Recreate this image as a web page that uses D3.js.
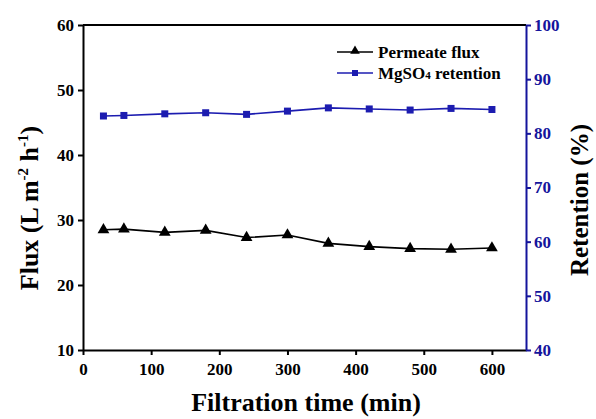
<!DOCTYPE html>
<html>
<head>
<meta charset="utf-8">
<script src="https://cdn.jsdelivr.net/npm/d3@7"></script>
<style>
  html, body { margin: 0; padding: 0; background: #fff; }
  svg { display: block; font-family: "Liberation Serif", "Times New Roman", serif; font-weight: bold; }
</style>
</head>
<body>
<svg id="chart" width="596" height="419"></svg>
<script>
// Filtration time (min) at each sample
const times = [30, 60, 120, 180, 240, 300, 360, 420, 480, 540, 600];
// Permeate flux (L m^-2 h^-1)
const flux = [28.5, 28.6, 28.1, 28.4, 27.3, 27.7, 26.4, 25.9, 25.6, 25.5, 25.7];
// MgSO4 retention (%)
const retention = [83.2, 83.3, 83.6, 83.8, 83.5, 84.1, 84.7, 84.5, 84.3, 84.6, 84.4];

const xTicks = [0, 100, 200, 300, 400, 500, 600];
const fluxTicks = [10, 20, 30, 40, 50, 60];
const retTicks = [40, 50, 60, 70, 80, 90, 100];

const blue = "#1c1cb0";
const axisBlue = "#14149c";

const svg = d3.select("#chart");
const plotL = 83, plotR = 526, plotT = 25, plotB = 350;

const x = d3.scaleLinear().domain([0, 650]).range([plotL, plotR]);
const yL = d3.scaleLinear().domain([10, 60]).range([plotB, plotT]);
const yR = d3.scaleLinear().domain([40, 100]).range([plotB, plotT]);

// frame: top border
svg.append("line").attr("x1", plotL).attr("x2", plotR).attr("y1", plotT).attr("y2", plotT)
  .attr("stroke", "#000").attr("stroke-width", 2);

function styleAxis(g, color) {
  g.select(".domain").attr("stroke", color).attr("stroke-width", 2);
  g.selectAll(".tick line").attr("stroke", color).attr("stroke-width", 2);
  g.selectAll(".tick text").attr("fill", color)
    .style("font-family", "Liberation Serif, serif").style("font-weight", "bold").style("font-size", "17px");
}

// minor ticks
function minor(axisGen, vals, len) {
  return axisGen.tickValues(vals).tickSize(len).tickFormat("");
}

// bottom axis
const gx = svg.append("g").attr("transform", `translate(0,${plotB})`);
gx.call(minor(d3.axisBottom(x), d3.range(50, 651, 100), 4));
gx.call(d3.axisBottom(x).tickValues(xTicks).tickSize(5).tickPadding(8).tickSizeOuter(0));
styleAxis(gx, "#000");

// left axis
const gl = svg.append("g").attr("transform", `translate(${plotL},0)`);
gl.call(minor(d3.axisLeft(yL), d3.range(15, 60, 10), 4));
gl.call(d3.axisLeft(yL).tickValues(fluxTicks).tickSize(5).tickPadding(4).tickSizeOuter(0));
styleAxis(gl, "#000");

// right axis
const gr = svg.append("g").attr("transform", `translate(${plotR},0)`);
gr.call(minor(d3.axisRight(yR), d3.range(45, 100, 10), 4));
gr.call(d3.axisRight(yR).tickValues(retTicks).tickSize(5).tickPadding(3).tickSizeOuter(0));
styleAxis(gr, axisBlue);

// series
const fluxData = times.map((t, i) => ({ t, v: flux[i] }));
const retData = times.map((t, i) => ({ t, v: retention[i] }));

svg.append("path").datum(fluxData)
  .attr("fill", "none").attr("stroke", "#000").attr("stroke-width", 1.6)
  .attr("d", d3.line().x(d => x(d.t)).y(d => yL(d.v)));
svg.append("g").selectAll("path").data(fluxData).join("path")
  .attr("transform", d => `translate(${x(d.t)},${yL(d.v)})`)
  .attr("d", d3.symbol(d3.symbolTriangle, 60)())
  .attr("fill", "#000");

svg.append("path").datum(retData)
  .attr("fill", "none").attr("stroke", blue).attr("stroke-width", 1.6)
  .attr("d", d3.line().x(d => x(d.t)).y(d => yR(d.v)));
svg.append("g").selectAll("rect").data(retData).join("rect")
  .attr("x", d => x(d.t) - 3.5).attr("y", d => yR(d.v) - 3.5)
  .attr("width", 7).attr("height", 7).attr("fill", blue);

// legend
const lg = svg.append("g");
lg.append("line").attr("x1", 337).attr("x2", 373).attr("y1", 52).attr("y2", 52)
  .attr("stroke", "#000").attr("stroke-width", 1.6);
lg.append("path").attr("transform", "translate(355,51)")
  .attr("d", d3.symbol(d3.symbolTriangle, 40)()).attr("fill", "#000");
lg.append("text").attr("x", 378).attr("y", 58).style("font-size", "17px").text("Permeate flux");

lg.append("line").attr("x1", 337).attr("x2", 373).attr("y1", 73).attr("y2", 73)
  .attr("stroke", blue).attr("stroke-width", 1.6);
lg.append("rect").attr("x", 352).attr("y", 70).attr("width", 6).attr("height", 6).attr("fill", blue);
const t2 = lg.append("text").attr("x", 378).attr("y", 79).style("font-size", "17px");
t2.append("tspan").text("MgSO");
t2.append("tspan").style("font-size", "11px").text("4");
t2.append("tspan").text(" retention");

// axis titles
svg.append("text").attr("x", 306).attr("y", 411)
  .attr("text-anchor", "middle").style("font-size", "26px").text("Filtration time (min)");

const ylab = svg.append("text").attr("transform", "translate(38,208) rotate(-90)")
  .attr("text-anchor", "middle").style("font-size", "26px");
ylab.append("tspan").text("Flux (L m");
ylab.append("tspan").attr("dy", -10).style("font-size", "15px").text("-2");
ylab.append("tspan").attr("dy", 10).text(" h");
ylab.append("tspan").attr("dy", -10).style("font-size", "15px").text("-1");
ylab.append("tspan").attr("dy", 10).text(")");

svg.append("text").attr("transform", "translate(588,200) rotate(-90)")
  .attr("text-anchor", "middle").style("font-size", "25px").text("Retention (%)");
</script>
</body>
</html>
